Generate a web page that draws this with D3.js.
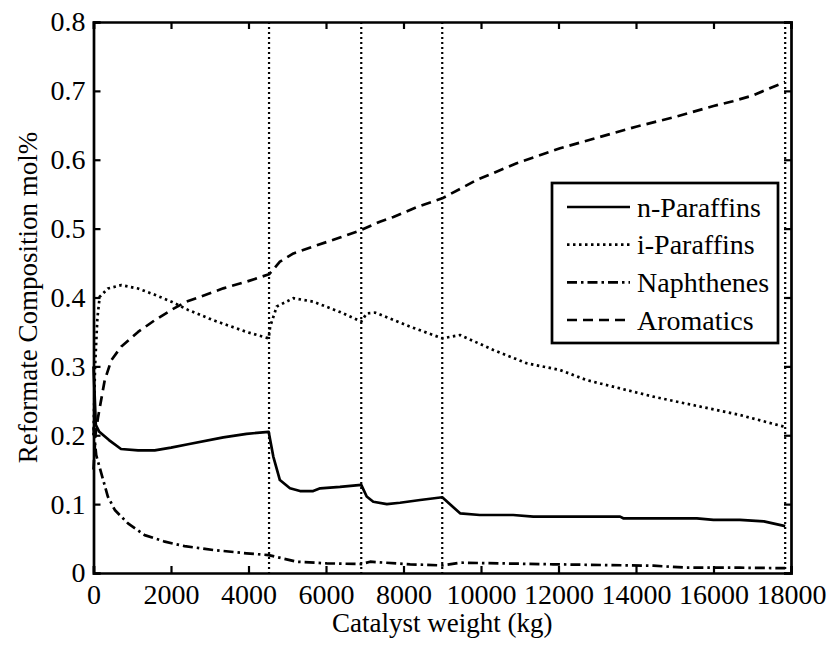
<!DOCTYPE html>
<html>
<head>
<meta charset="utf-8">
<script src="https://cdn.jsdelivr.net/npm/d3@7"></script>
<style>
  html, body { margin: 0; padding: 0; background: #fff; }
  svg text { font-family: "Liberation Serif", "Times New Roman", serif; fill: #000; }
</style>
</head>
<body>
<svg id="chart" width="838" height="647"></svg>
<script>
// Reformate composition along the reactor train (mol fraction vs catalyst weight)
const xTicks = [0, 2000, 4000, 6000, 8000, 10000, 12000, 14000, 16000, 18000];
const yTicks = [0, 0.1, 0.2, 0.3, 0.4, 0.5, 0.6, 0.7, 0.8];
const seriesNames = ["n-Paraffins", "i-Paraffins", "Naphthenes", "Aromatics"];

// Reactor boundaries (kg of catalyst)
const reactorEnds = [4530, 6910, 9000, 17850];

const nParaffinsW = [0, 60, 150, 400, 710, 1150, 1580, 2000, 2440, 3350, 3950, 4520, 4640, 4810, 5070, 5330, 5670, 5850, 6360, 6910, 7050, 7220, 7570, 7910, 8430, 9000, 9460, 9970, 10830, 11350, 12040, 13590, 13670, 15570, 16000, 16680, 17300, 17850];
const nParaffins  = [0.30, 0.215, 0.205, 0.193, 0.180, 0.178, 0.178, 0.182, 0.187, 0.197, 0.202, 0.205, 0.169, 0.135, 0.123, 0.119, 0.119, 0.123, 0.125, 0.128, 0.111, 0.1035, 0.100, 0.102, 0.106, 0.110, 0.0866, 0.0842, 0.0842, 0.0818, 0.0818, 0.0818, 0.0794, 0.0794, 0.077, 0.077, 0.075, 0.068];

const iParaffinsW = [0, 40, 100, 160, 370, 720, 1150, 1580, 2010, 2440, 3090, 3950, 4520, 4560, 4730, 5160, 5670, 6360, 6910, 7050, 7270, 8170, 9000, 9460, 10320, 11180, 12040, 12730, 14450, 16680, 17850];
const iParaffins  = [0.20, 0.30, 0.37, 0.401, 0.413, 0.418, 0.413, 0.404, 0.394, 0.382, 0.367, 0.350, 0.3407, 0.358, 0.387, 0.399, 0.394, 0.379, 0.365, 0.377, 0.378, 0.3577, 0.3407, 0.3455, 0.3238, 0.3045, 0.2947, 0.280, 0.256, 0.2294, 0.212];

const naphthenesW = [0, 70, 200, 370, 550, 890, 1320, 1840, 2350, 3090, 3950, 4520, 5240, 6020, 6910, 7140, 8170, 9000, 9460, 11860, 14450, 15310, 16680, 17850];
const naphthenes  = [0.21, 0.171, 0.145, 0.111, 0.0915, 0.072, 0.055, 0.0455, 0.039, 0.0334, 0.0286, 0.026, 0.0164, 0.014, 0.013, 0.0164, 0.0126, 0.011, 0.015, 0.0126, 0.0106, 0.0077, 0.0077, 0.007];

const aromaticsW = [0, 50, 120, 290, 460, 720, 1150, 1580, 2010, 2400, 2750, 3350, 3950, 4530, 4810, 5160, 5670, 6360, 6910, 7390, 7740, 8380, 9000, 9890, 10920, 12040, 13000, 14000, 15000, 16000, 16500, 17000, 17500, 17850];
const aromatics  = [0.15, 0.20, 0.227, 0.28, 0.309, 0.329, 0.350, 0.367, 0.382, 0.394, 0.401, 0.4133, 0.423, 0.4337, 0.452, 0.464, 0.474, 0.487, 0.498, 0.510, 0.517, 0.532, 0.544, 0.5706, 0.595, 0.6166, 0.632, 0.648, 0.662, 0.678, 0.685, 0.693, 0.705, 0.713];

const series = [
  { name: seriesNames[0], w: nParaffinsW, v: nParaffins, dash: null },
  { name: seriesNames[1], w: iParaffinsW, v: iParaffins, dash: "2.5,3.5" },
  { name: seriesNames[2], w: naphthenesW, v: naphthenes, dash: "10,4,2.5,4" },
  { name: seriesNames[3], w: aromaticsW, v: aromatics, dash: "10,6" }
];

const svg = d3.select("#chart");
const plotL = 93.5, plotR = 791, plotT = 22, plotB = 573;

const x = d3.scaleLinear().domain([0, 18000]).range([plotL, plotR]);
const y = d3.scaleLinear().domain([0, 0.8]).range([plotB, plotT]);

// Reactor boundary markers
svg.append("g").selectAll("line").data(reactorEnds).join("line")
  .attr("x1", d => x(d)).attr("x2", d => x(d))
  .attr("y1", plotT).attr("y2", plotB)
  .attr("stroke", "#000").attr("stroke-width", 2.2)
  .attr("stroke-dasharray", "2,3");

// Composition curves
const line = d3.line().x(d => x(d[0])).y(d => y(d[1]));
svg.append("g").selectAll("path").data(series).join("path")
  .attr("d", s => line(s.w.map((w, i) => [w, s.v[i]])))
  .attr("fill", "none").attr("stroke", "#000").attr("stroke-width", 2.7)
  .attr("stroke-linejoin", "round")
  .attr("stroke-dasharray", s => s.dash);

// Axes (box with inward ticks on all four sides)
const fs = 28;
const axB = svg.append("g").attr("transform", `translate(0,${plotB})`)
  .call(d3.axisBottom(x).tickValues(xTicks).tickSize(-7).tickPadding(11).tickFormat(d3.format("d")));
const axT = svg.append("g").attr("transform", `translate(0,${plotT})`)
  .call(d3.axisTop(x).tickValues(xTicks).tickSize(-7).tickFormat(""));
const axL = svg.append("g").attr("transform", `translate(${plotL},0)`)
  .call(d3.axisLeft(y).tickValues(yTicks).tickSize(-7).tickPadding(8).tickFormat(d => d === 0 ? "0" : d3.format(".1f")(d)));
const axR = svg.append("g").attr("transform", `translate(${plotR},0)`)
  .call(d3.axisRight(y).tickValues(yTicks).tickSize(-7).tickFormat(""));

[axB, axT, axL, axR].forEach(g => {
  g.select(".domain").attr("stroke", "#000").attr("stroke-width", 2.7);
  g.selectAll(".tick line").attr("stroke", "#000").attr("stroke-width", 2.2);
  g.selectAll("text").style("font-family", "'Liberation Serif', serif").style("font-size", fs + "px").attr("fill", "#000");
});
axB.selectAll("text").attr("dy", "0.71em");

// Axis titles
svg.append("text").attr("x", (plotL + plotR) / 2).attr("y", 632)
  .attr("text-anchor", "middle").style("font-size", "27px")
  .text("Catalyst weight (kg)");
svg.append("text").attr("transform", `translate(37,${(plotT + plotB) / 2}) rotate(-90)`)
  .attr("text-anchor", "middle").style("font-size", "27px")
  .text("Reformate Composition mol%");

// Legend
const lg = svg.append("g");
lg.append("rect").attr("x", 552).attr("y", 183).attr("width", 226).attr("height", 160)
  .attr("fill", "#fff").attr("stroke", "#000").attr("stroke-width", 2.7);
const rowY = d3.scalePoint().domain(seriesNames).range([207, 320]);
const rows = lg.selectAll("g.row").data(series).join("g").attr("class", "row")
  .attr("transform", s => `translate(0,${rowY(s.name)})`);
rows.append("line").attr("x1", 567).attr("x2", 630)
  .attr("stroke", "#000").attr("stroke-width", 2.7)
  .attr("stroke-dasharray", s => s.dash);
rows.append("text").attr("x", 637).attr("dy", "0.35em")
  .style("font-size", "28px").text(s => s.name);
</script>
</body>
</html>
